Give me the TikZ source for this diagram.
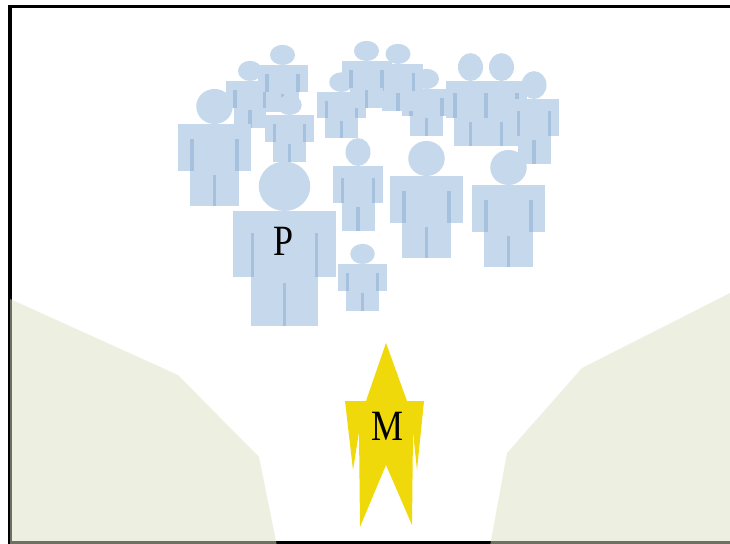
\documentclass[tikz,border=0pt]{standalone}
\usepackage{fontspec}
\setmainfont{Liberation Serif}
\usepackage{graphicx}
\definecolor{personfill}{RGB}{198,216,235}
\definecolor{personline}{RGB}{166,193,222}
\definecolor{groundfill}{RGB}{220,227,197}
\definecolor{leaderfill}{RGB}{240,217,10}
\tikzset{
  person body/.style={fill=personfill},
  person stripe/.style={draw=personline, line width=3.6pt},
  ground/.style={fill=groundfill, fill opacity=0.5},
  leader/.style={fill=leaderfill},
  frame/.style={draw=black, line width=3.2pt},
  label text/.style={inner sep=0pt, font=\fontsize{36}{36}\selectfont},
  pics/crowdperson/.style={code={
    \fill[person body] (-50,0) rectangle (50,64);
    \fill[person body] (-33,64) rectangle (33,112);
    \fill[person body] (0,-24) ellipse [x radius=25, y radius=24];
    \path[person stripe] (-31,21) -- (-31,64) (31,21) -- (31,64) (0,70) -- (0,112);
  }}
}
\begin{document}
\begin{tikzpicture}[x=1pt, y=-1pt]
  \useasboundingbox (0,0) rectangle (730,543);
  \clip (0,0) rectangle (730,543);
  \fill[white] (0,0) rectangle (730,543);

  % outer frame (runs past the right edge)
  \path[frame] (10,6.5) rectangle (745,542.5);

  % ground on both sides of the path
  \path[ground] (10,299) -- (178,375) -- (259,457) -- (277,546) -- (10,546) -- cycle;
  \path[ground] (740,288) -- (582,368) -- (507,453) -- (490,546) -- (740,546) -- cycle;

  % the crowd, back to front
  \pic[xscale=0.49, yscale=0.41] at (341.5,92)  {crowdperson};
  \pic[xscale=0.50, yscale=0.42] at (426.5,89)  {crowdperson};
  \pic[xscale=0.50, yscale=0.42] at (398,64)    {crowdperson};
  \pic[xscale=0.50, yscale=0.42] at (366.5,61)  {crowdperson};
  \pic[xscale=0.48, yscale=0.42] at (250,81)    {crowdperson};
  \pic[xscale=0.50, yscale=0.42] at (282.5,65)  {crowdperson};
  \pic[xscale=0.49, yscale=0.42] at (289.5,115) {crowdperson};
  \pic[xscale=0.73, yscale=0.73] at (214.5,124) {crowdperson};
  \pic[xscale=0.50, yscale=0.58] at (470.5,81)  {crowdperson};
  \pic[xscale=0.50, yscale=0.58] at (501.5,81)  {crowdperson};
  \pic[xscale=0.50, yscale=0.58] at (534,99)    {crowdperson};
  \pic[xscale=0.50, yscale=0.58] at (358,166)   {crowdperson};
  \pic[xscale=0.73, yscale=0.73] at (426.5,176) {crowdperson};
  \pic[xscale=0.73, yscale=0.73] at (508.5,185) {crowdperson};
  \pic[xscale=1.03, yscale=1.03] at (284.5,211) {crowdperson};
  \pic[xscale=0.49, yscale=0.42] at (362.5,264) {crowdperson};

  % the leader figure
  \path[leader] (386,343) -- (407,401) -- (424,401) -- (417,470) -- (413,432)
    -- (412,525) -- (386,465) -- (360,527) -- (359,432) -- (353,470)
    -- (345,401) -- (366,401) -- cycle;

  \node[label text] (plabel) at (283.5,241.5) {\scalebox{1}[1.2]{P}};
  \node[label text] (mlabel) at (387,426) {\scalebox{1}[1.2]{M}};
\end{tikzpicture}
\end{document}
